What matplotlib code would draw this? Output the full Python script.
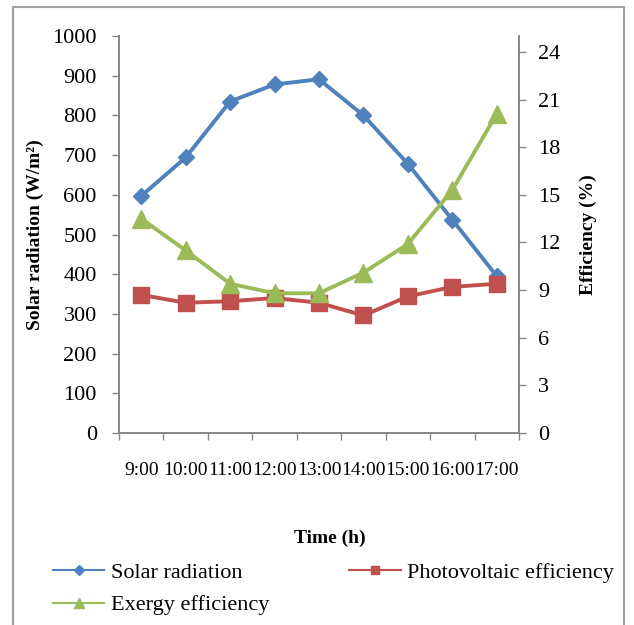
import matplotlib.pyplot as plt
from matplotlib.lines import Line2D
from matplotlib.patches import Rectangle

plt.rcParams['font.family'] = ['Liberation Serif', 'DejaVu Serif']

# hourly measurements
hours = ["9:00", "10:00", "11:00", "12:00", "13:00", "14:00", "15:00", "16:00", "17:00"]
solar_radiation = [597, 694, 835, 878, 891, 800, 678, 537, 395]   # W/m2
pv_efficiency = [8.7, 8.2, 8.3, 8.5, 8.2, 7.4, 8.6, 9.2, 9.4]       # %
exergy_efficiency = [13.5, 11.5, 9.4, 8.8, 8.8, 10.1, 11.9, 15.3, 20.1]  # %

blue = '#4F81BD'
red = '#C0504D'
green = '#9BBB59'
grey = '#868686'

fig = plt.figure(figsize=(6.34, 6.25), dpi=100)
ax = fig.add_axes([0.1877, 0.3072, 0.6309, 0.6352])
ax2 = ax.twinx()

x = list(range(len(hours)))
ax.plot(x, solar_radiation, color=blue, lw=2.8, marker='D', ms=8.5, zorder=3)
ax2.plot(x, pv_efficiency, color=red, lw=2.8, marker='s', ms=11.5, zorder=3)
ax2.plot(x, exergy_efficiency, color=green, lw=2.8, marker='^', ms=13, zorder=3)

ax.set_xlim(-0.5, len(hours) - 0.5)
ax.set_ylim(0, 1000)
ax.set_yticks(range(0, 1001, 100))
ax2.set_ylim(0, 25)
ax2.set_yticks(range(0, 25, 3))

ax.set_xticks(x)
ax.set_xticklabels(hours, fontsize=14)
ax.set_xticks([i - 0.5 for i in range(len(hours) + 1)], minor=True)
ax.tick_params(axis='x', which='major', length=0, pad=21)
ax.tick_params(axis='x', which='minor', length=5, width=1, color=grey, direction='out')
ax.tick_params(axis='y', labelsize=16, length=5, width=1, color=grey, direction='out', pad=11)
ax2.tick_params(axis='y', labelsize=16, length=5, width=1, color=grey, direction='out', pad=9)

for a in (ax, ax2):
    a.spines['top'].set_visible(False)
    for s in ('left', 'right', 'bottom'):
        a.spines[s].set_color(grey)
        a.spines[s].set_linewidth(1.2)

ax.set_ylabel('Solar radiation (W/m²)', fontsize=14, fontweight='bold', labelpad=6)
ax2.set_ylabel('Efficiency (%)', fontsize=14, fontweight='bold', labelpad=14)
fig.text(0.52, 0.139, 'Time (h)', fontsize=14, fontweight='bold', ha='center', va='center')

handles = [
    Line2D([], [], color=blue, lw=1.5, marker='D', ms=5),
    Line2D([], [], color=green, lw=1.5, marker='^', ms=7),
    Line2D([], [], color=red, lw=1.5, marker='s', ms=6),
]
labels = ['Solar radiation', 'Exergy efficiency', 'Photovoltaic efficiency']
fig.legend(handles, labels, ncol=2, loc='upper left', bbox_to_anchor=(0.07, 0.115),
           frameon=False, fontsize=16, handlelength=2.3, handletextpad=0.3,
           columnspacing=3.6, labelspacing=0.55, borderaxespad=0)

# outer chart border
fig.patches.append(Rectangle((13 / 634, -0.05), 611 / 634, 1.05 - 7 / 625,
                             transform=fig.transFigure, fill=False,
                             edgecolor='#A0A0A0', lw=1.5))

fig.savefig('out.png', dpi=100)
